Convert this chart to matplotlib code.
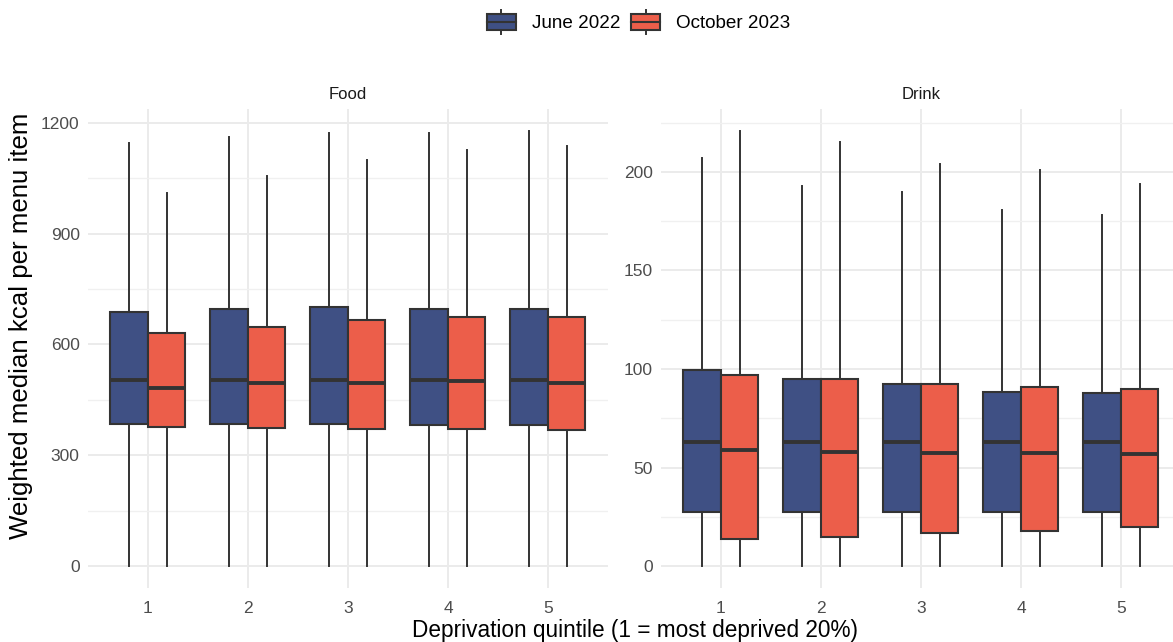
import matplotlib
matplotlib.use("Agg")
import matplotlib.pyplot as plt
from matplotlib.legend_handler import HandlerBase
from matplotlib.lines import Line2D
from matplotlib.patches import Rectangle, Patch
from matplotlib.ticker import MultipleLocator

plt.rcParams['font.family'] = ['Liberation Sans', 'DejaVu Sans']

quintiles = [1, 2, 3, 4, 5]
periods = ['June 2022', 'October 2023']
colours = ['#3F5084', '#EC5E4A']

# box statistics per quintile: lower whisker, Q1, median, Q3, upper whisker
food_june_lo = [0, 0, 0, 0, 0]
food_june_q1 = [386, 386, 386, 383, 381]
food_june_med = [505, 505, 505, 505, 503]
food_june_q3 = [689, 697, 701, 697, 697]
food_june_hi = [1144, 1162, 1173, 1172, 1178]

food_oct_lo = [0, 0, 0, 0, 0]
food_oct_q1 = [376, 373, 371, 370, 368]
food_oct_med = [481, 497, 497, 500, 497]
food_oct_q3 = [630, 646, 665, 674, 674]
food_oct_hi = [1009, 1057, 1099, 1126, 1137]

drink_june_lo = [0, 0, 0, 0, 0]
drink_june_q1 = [27.4, 27.4, 27.4, 27.4, 27.4]
drink_june_med = [63, 63, 63, 63, 63]
drink_june_q3 = [99.3, 94.9, 92.3, 88.6, 88.1]
drink_june_hi = [207, 192.6, 190, 180.6, 178]

drink_oct_lo = [0, 0, 0, 0, 0]
drink_oct_q1 = [14, 15, 17, 17.9, 20]
drink_oct_med = [59, 58, 57.3, 57.3, 56.8]
drink_oct_q3 = [96.9, 94.9, 92.3, 91.1, 89.8]
drink_oct_hi = [220.8, 214.9, 203.9, 201, 194]


def make_stats(lo, q1, med, q3, hi):
    return [dict(whislo=a, q1=b, med=c, q3=d, whishi=e, fliers=[])
            for a, b, c, d, e in zip(lo, q1, med, q3, hi)]


panels = [
    ('Food', [make_stats(food_june_lo, food_june_q1, food_june_med, food_june_q3, food_june_hi),
              make_stats(food_oct_lo, food_oct_q1, food_oct_med, food_oct_q3, food_oct_hi)], 300),
    ('Drink', [make_stats(drink_june_lo, drink_june_q1, drink_june_med, drink_june_q3, drink_june_hi),
               make_stats(drink_oct_lo, drink_oct_q1, drink_oct_med, drink_oct_q3, drink_oct_hi)], 50),
]

edge = '#333333'
grid_major = '#EBEBEB'
dodge = 0.1875
box_w = 0.375

fig = plt.figure(figsize=(11.73, 6.42), dpi=100)
axes_pos = [[0.0750, 0.0841, 0.4433, 0.746],
            [0.5635, 0.0841, 0.4433, 0.746]]

for (title, stats, step), pos in zip(panels, axes_pos):
    ax = fig.add_axes(pos)
    for k, (st, col) in enumerate(zip(stats, colours)):
        offs = -dodge if k == 0 else dodge
        ax.bxp(st, positions=[q + offs for q in quintiles], widths=box_w,
               patch_artist=True, showfliers=False, showcaps=False,
               boxprops=dict(facecolor=col, edgecolor=edge, linewidth=1.5),
               whiskerprops=dict(color=edge, linewidth=1.4),
               medianprops=dict(color=edge, linewidth=2.8, solid_capstyle='butt'),
               manage_ticks=False, zorder=3)
    ax.set_xlim(0.4, 5.6)
    ax.set_xticks(quintiles)
    ax.set_xticklabels([str(q) for q in quintiles])
    ax.yaxis.set_major_locator(MultipleLocator(step))
    ax.yaxis.set_minor_locator(MultipleLocator(step / 2))
    ax.margins(y=0.05)
    ax.grid(True, which='major', color=grid_major, linewidth=1.4, zorder=0)
    ax.grid(True, which='minor', axis='y', color='#F0F0F0', linewidth=1.0, zorder=0)
    ax.set_axisbelow(True)
    for s in ax.spines.values():
        s.set_visible(False)
    ax.tick_params(which='both', length=0, labelsize=12.5, colors='#4D4D4D', pad=6)
    ax.tick_params(axis='x', pad=9)
    ax.set_title(title, fontsize=12, color='#1A1A1A', pad=7)

fig.text(0.0175, 0.493, 'Weighted median kcal per menu item', rotation=90,
         ha='center', va='center', fontsize=18.6, color='black')
fig.text(0.541, 0.018, 'Deprivation quintile (1 = most deprived 20%)',
         ha='center', va='center', fontsize=16.3, color='black')


class BoxKey(HandlerBase):
    # small boxplot glyph for the legend
    def create_artists(self, legend, orig_handle, xdescent, ydescent,
                       width, height, fontsize, trans):
        cx = width / 2 - xdescent
        cy = height / 2 - ydescent
        bw, bh = width, height * 0.68
        whisk = Line2D([cx, cx], [cy - height * 0.52, cy + height * 0.52],
                       color=edge, linewidth=1.4, transform=trans)
        rect = Rectangle((cx - bw / 2, cy - bh / 2), bw, bh,
                         facecolor=orig_handle.get_facecolor(), edgecolor=edge,
                         linewidth=1.5, transform=trans)
        med = Line2D([cx - bw / 2, cx + bw / 2], [cy, cy], color=edge,
                     linewidth=1.5, transform=trans)
        return [whisk, rect, med]


handles = [Patch(facecolor=c) for c in colours]
fig.legend(handles, periods, loc='center', bbox_to_anchor=(0.5445, 0.9657),
           ncol=2, frameon=False, fontsize=13.6,
           handler_map={Patch: BoxKey()}, handlelength=1.5, handleheight=1.5,
           handletextpad=0.85, columnspacing=0.6)

fig.savefig('out.png', dpi=100)
